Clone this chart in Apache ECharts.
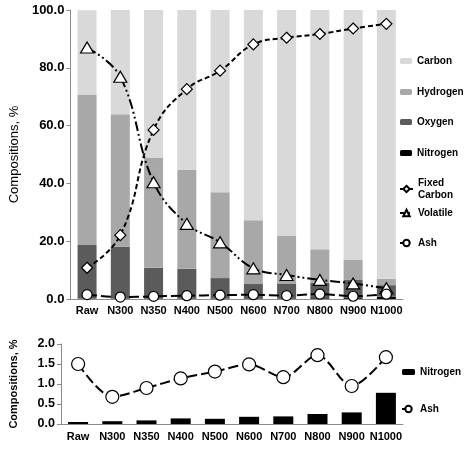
<!DOCTYPE html>
<html><head><meta charset="utf-8">
<script src="https://cdn.jsdelivr.net/npm/echarts@6/dist/echarts.min.js"></script>
<style>html,body{margin:0;padding:0;background:#fff}#c{width:465px;height:450px}</style>
</head><body><div id="c"></div>
<script>
const categories = ['Raw','N300','N350','N400','N500','N600','N700','N800','N900','N1000'];
const carbon   = [29.4, 36.0, 51.2, 55.4, 63.1, 72.7, 78.2, 82.8, 86.5, 93.0];
const hydrogen = [51.9, 45.9, 38.0, 34.2, 29.7, 22.1, 16.6, 11.6, 6.9, 2.2];
const oxygen   = [18.6, 18.0, 10.7, 10.3, 7.1, 5.0, 5.0, 5.35, 6.3, 4.0];
const nitrogen = [0.05, 0.07, 0.09, 0.14, 0.13, 0.18, 0.19, 0.25, 0.29, 0.78];
const fixedCarbon = [10.8, 22.1, 58.5, 72.6, 79.0, 88.1, 90.4, 91.7, 93.6, 95.2];
const volatile = [87.0, 76.9, 40.4, 26.0, 19.6, 10.6, 8.3, 6.6, 5.4, 3.7];
const ash = [1.5, 0.68, 0.9, 1.14, 1.31, 1.49, 1.17, 1.72, 0.95, 1.67];

const FONT = 'Liberation Sans, Arial, sans-serif';
const axisCol = '#8c8c8c';
const chart = echarts.init(document.getElementById('c'), null, {renderer:'canvas'});

function barS(name, data, color, xi, yi, stack, bw) {
  return {name, type:'bar', data, stack, xAxisIndex:xi, yAxisIndex:yi, barWidth:bw,
    itemStyle:{color}, z:2, animation:false};
}
function lineS(name, data, xi, yi, symbol, size, dash, smooth) {
  return {name, type:'line', data, xAxisIndex:xi, yAxisIndex:yi, symbol, symbolSize:size,
    smooth, lineStyle:{color:'#000', width:2, type:dash},
    itemStyle:{color:'#fff', borderColor:'#000', borderWidth:1.2}, z:5, animation:false};
}
function leg(name, top, left, iw, ih, text) {
  return {data:[name], top, left, itemWidth:iw, itemHeight:ih, orient:'vertical', padding:0,
    selectedMode:false, formatter: text ? (()=>text) : undefined,
    textStyle:{fontFamily:FONT, fontSize:10, fontWeight:'bold', color:'#000', lineHeight:12}};
}

const option = {
  backgroundColor:'#fff',
  animation:false,
  grid:[
    {left:56, top:10, width:347, height:289},
    {left:56, top:344, width:347, height:80}
  ],
  xAxis:[
    {type:'category', data:categories, gridIndex:0,
      axisLine:{lineStyle:{color:axisCol}}, axisTick:{show:false},
      axisLabel:{fontFamily:FONT, fontSize:11, fontWeight:'bold', color:'#000', margin:6, interval:0}},
    {type:'category', data:categories, gridIndex:1,
      axisLine:{lineStyle:{color:axisCol}}, axisTick:{show:false},
      axisLabel:{fontFamily:FONT, fontSize:11, fontWeight:'bold', color:'#000', margin:7, interval:0}}
  ],
  yAxis:[
    {type:'value', gridIndex:0, min:0, max:100, interval:20,
      name:'Compositions, %', nameLocation:'middle', nameGap:41,
      nameTextStyle:{fontFamily:FONT, fontSize:13, color:'#000'},
      axisLine:{show:true, lineStyle:{color:axisCol}}, axisTick:{show:true, length:4, lineStyle:{color:axisCol}},
      splitLine:{show:false},
      axisLabel:{fontFamily:FONT, fontSize:13, fontWeight:'bold', color:'#000', margin:6,
        formatter:v=>v.toFixed(1)}},
    {type:'value', gridIndex:1, min:0, max:2, interval:0.5,
      name:'Compositions, %', nameLocation:'middle', nameGap:42,
      nameTextStyle:{fontFamily:FONT, fontSize:11, fontWeight:'bold', color:'#000'},
      axisLine:{show:true, lineStyle:{color:axisCol}}, axisTick:{show:true, length:4, lineStyle:{color:axisCol}},
      splitLine:{show:false},
      axisLabel:{fontFamily:FONT, fontSize:12.5, fontWeight:'bold', color:'#000', margin:6,
        formatter:v=>v.toFixed(1)}}
  ],
  legend:[
    leg('Carbon', 55, 400, 12, 6),
    leg('Hydrogen', 86, 400, 12, 6),
    leg('Oxygen', 116, 400, 12, 6),
    leg('Nitrogen', 147, 400, 12, 6),
    leg('Fixed Carbon', 177, 399, 13, 8, 'Fixed\nCarbon'),
    leg('Volatile', 207, 399, 13, 8),
    leg('Ash', 237, 399, 13, 8),
    leg('Nitrogen', 366, 402, 13, 6),
    leg('Ash', 403, 401, 13, 8)
  ],
  series:[
    barS('Nitrogen', nitrogen, '#000000', 0, 0, 'top', 19),
    barS('Oxygen', oxygen, '#5b5b5b', 0, 0, 'top', 19),
    barS('Hydrogen', hydrogen, '#a8a8a8', 0, 0, 'top', 19),
    barS('Carbon', carbon, '#d9d9d9', 0, 0, 'top', 19),
    lineS('Fixed Carbon', fixedCarbon, 0, 0, 'diamond', 11, [5,3], 0.45),
    lineS('Volatile', volatile, 0, 0, 'triangle', [13,11], [10,3,2,3,2,3], 0.4),
    lineS('Ash', ash, 0, 0, 'circle', 10, [10,4], 0.3),
    barS('Nitrogen', nitrogen, '#000000', 1, 1, 'bot', 20),
    lineS('Ash', ash, 1, 1, 'circle', 13, [10,4], 0.3)
  ]
};
chart.setOption(option);
</script></body></html>
